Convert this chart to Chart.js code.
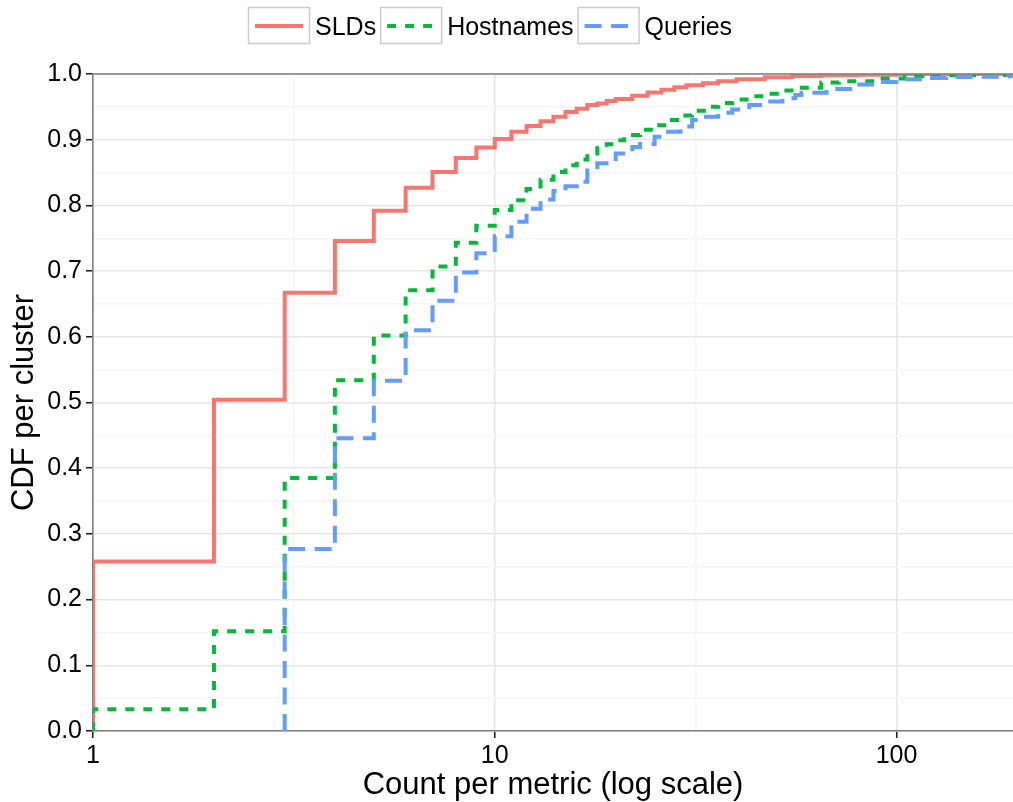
<!DOCTYPE html>
<html>
<head>
<meta charset="utf-8">
<script src="https://cdn.jsdelivr.net/npm/chart.js@4/dist/chart.umd.min.js"></script>
<style>
  html, body { margin: 0; padding: 0; background: #fff; }
  #wrap { width: 1013px; height: 802px; }
</style>
</head>
<body>
<div id="wrap"><canvas id="cdfChart" width="1013" height="802"></canvas></div>
<script>
// ECDF steps: count per metric -> share of clusters
const sldCounts = [1, 1, 2, 3, 4, 5, 6, 7, 8, 9, 10, 11, 12, 13, 14, 15, 16, 17, 18, 19, 20, 22, 24, 26, 28, 30, 33, 36, 40, 47, 55, 65, 80, 100]
const sldCdf = [0, 0.258, 0.504, 0.667, 0.746, 0.792, 0.827, 0.851, 0.872, 0.888, 0.901, 0.912, 0.921, 0.928, 0.935, 0.942, 0.947, 0.953, 0.955, 0.959, 0.962, 0.967, 0.972, 0.976, 0.980, 0.983, 0.986, 0.989, 0.992, 0.995, 0.997, 0.998, 0.999, 1.0]

const hostCounts = [1, 1, 2, 3, 4, 5, 6, 7, 8, 9, 10, 11, 12, 13, 14, 15, 16, 17, 18, 19, 20, 21, 23, 25, 27, 29, 31, 34, 36, 39, 43, 47, 52, 56, 65, 72, 87, 105, 116, 140]
const hostCdf = [0, 0.033, 0.152, 0.385, 0.534, 0.602, 0.671, 0.707, 0.743, 0.769, 0.793, 0.808, 0.825, 0.839, 0.851, 0.861, 0.870, 0.879, 0.887, 0.893, 0.899, 0.907, 0.915, 0.922, 0.930, 0.937, 0.944, 0.950, 0.956, 0.961, 0.966, 0.970, 0.975, 0.979, 0.987, 0.989, 0.993, 0.9965, 0.998, 0.9985]

const queryCounts = [3, 3, 4, 5, 6, 7, 8, 9, 10, 11, 12, 13, 14, 15, 16, 17, 18, 20, 22, 23, 25, 27, 29, 31, 33, 36, 39, 43, 47, 52, 56, 58, 67, 78, 87, 100, 116, 133, 160, 190]
const queryCdf = [0, 0.277, 0.4455, 0.533, 0.610, 0.655, 0.698, 0.727, 0.753, 0.775, 0.795, 0.809, 0.822, 0.829, 0.836, 0.853, 0.864, 0.879, 0.889, 0.8935, 0.9046, 0.912, 0.920, 0.930, 0.935, 0.941, 0.946, 0.953, 0.958, 0.963, 0.968, 0.9715, 0.977, 0.984, 0.988, 0.992, 0.994, 0.9955, 0.996, 0.997]

const seriesLabels = ['SLDs', 'Hostnames', 'Queries']

const xTickValues = [1, 3.1623, 10, 31.623, 100]
const xTickLabels = ['1', '', '10', '', '100']
const X_MIN = 1
const X_MAX = 195

const FONT = "'Liberation Sans', Arial, Helvetica, sans-serif"
const MAJOR_GRID = '#E6E6E6'
const MINOR_GRID = '#F6F6F6'
const BORDER_GREY = '#7F7F7F'

// ecdf runs on to the right edge of the panel
const toSteps = (xs, ys) => {
  let pts = xs.map((x, i) => ({ x: x, y: ys[i] }))
  pts.push({ x: X_MAX, y: ys[ys.length - 1] })
  return pts
}

const lineStyle = (label, pts, color, dash, order) => ({
  label: label,
  data: pts,
  borderColor: color,
  backgroundColor: color,
  borderWidth: 4,
  borderDash: dash,
  borderCapStyle: 'butt',
  borderJoinStyle: 'miter',
  stepped: 'before',
  pointRadius: 0,
  fill: false,
  clip: 0,
  order: order,
})

const isMinorY = v => Math.round(v * 100) % 10 !== 0
const isMinorX = v => xTickLabels[xTickValues.indexOf(v)] === ''

const panelTop = {
  id: 'panelTop',
  afterDatasetsDraw(chart) {
    const { ctx, chartArea } = chart
    ctx.save()
    ctx.strokeStyle = BORDER_GREY
    ctx.lineWidth = 1.6
    ctx.beginPath()
    ctx.moveTo(chartArea.left, chartArea.top)
    ctx.lineTo(chartArea.right, chartArea.top)
    ctx.stroke()
    ctx.restore()
  }
}

// ggplot-like legend keys: grey box with a line sample, then the label
const keyLegend = {
  id: 'keyLegend',
  afterDraw(chart) {
    const { ctx } = chart
    const keyW = 61, keyH = 36, top = 7
    let x = 248
    ctx.save()
    ctx.font = '25px ' + FONT
    ctx.textBaseline = 'middle'
    chart.data.datasets.forEach(ds => {
      ctx.setLineDash([])
      ctx.strokeStyle = '#CCCCCC'
      ctx.lineWidth = 1.5
      ctx.strokeRect(x + 0.5, top + 0.5, keyW, keyH)
      ctx.strokeStyle = ds.borderColor
      ctx.lineWidth = ds.borderWidth
      ctx.lineCap = 'butt'
      ctx.setLineDash(ds.borderDash)
      ctx.beginPath()
      ctx.moveTo(x + 7, top + keyH / 2 + 1)
      ctx.lineTo(x + keyW - 6, top + keyH / 2 + 1)
      ctx.stroke()
      ctx.setLineDash([])
      ctx.fillStyle = '#000'
      ctx.fillText(ds.label, x + keyW + 6, top + keyH / 2 + 3)
      x += keyW + 6 + ctx.measureText(ds.label).width + 4
    })
    ctx.restore()
  }
}

const ctxCdf = document.getElementById('cdfChart').getContext('2d')
const chartCdf = new Chart(ctxCdf, {
  type: 'line',
  data: {
    datasets: [
      lineStyle(seriesLabels[0], toSteps(sldCounts, sldCdf), '#F8766D', [], 3),
      lineStyle(seriesLabels[1], toSteps(hostCounts, hostCdf), '#00BA38', [9, 9], 2),
      lineStyle(seriesLabels[2], toSteps(queryCounts, queryCdf), '#619CFF', [17, 9.5], 1),
    ]
  },
  options: {
    responsive: false,
    animation: false,
    devicePixelRatio: 1,
    layout: { padding: { top: 74, left: 0, right: 0, bottom: 0 } },
    plugins: {
      legend: { display: false },
      tooltip: { enabled: false },
    },
    scales: {
      x: {
        type: 'logarithmic',
        min: X_MIN,
        max: X_MAX,
        afterBuildTicks: scale => {
          scale.ticks = xTickValues.map(v => ({ value: v }))
        },
        afterFit: scale => { scale.height = 71 },
        grid: {
          color: c => (c.tick && isMinorX(c.tick.value)) ? MINOR_GRID : MAJOR_GRID,
          lineWidth: 1.5,
          tickColor: c => (c.tick && isMinorX(c.tick.value)) ? 'rgba(0,0,0,0)' : '#222',
          tickLength: 7,
          tickWidth: 1.6,
        },
        border: { display: true, color: BORDER_GREY, width: 1.6 },
        ticks: {
          autoSkip: false,
          maxRotation: 0,
          padding: 3,
          color: '#000',
          font: { family: FONT, size: 25 },
          callback: (v) => {
            const i = xTickValues.indexOf(v)
            return i >= 0 ? xTickLabels[i] : ''
          },
        },
        title: {
          display: true,
          text: 'Count per metric (log scale)',
          color: '#000',
          font: { family: FONT, size: 31 },
          padding: { top: 0, bottom: -2 },
        },
      },
      y: {
        type: 'linear',
        min: 0,
        max: 1,
        afterFit: scale => { scale.width = 93 },
        grid: {
          color: c => (c.tick && isMinorY(c.tick.value)) ? MINOR_GRID : MAJOR_GRID,
          lineWidth: 1.5,
          tickColor: c => (c.tick && isMinorY(c.tick.value)) ? 'rgba(0,0,0,0)' : '#222',
          tickLength: 7,
          tickWidth: 1.6,
        },
        border: { display: true, color: BORDER_GREY, width: 1.6 },
        ticks: {
          stepSize: 0.05,
          autoSkip: false,
          padding: 4,
          color: '#000',
          font: { family: FONT, size: 25 },
          callback: v => isMinorY(v) ? '' : v.toFixed(1),
        },
        title: {
          display: true,
          text: 'CDF per cluster',
          color: '#000',
          font: { family: FONT, size: 31 },
          padding: { top: 6, bottom: 0 },
        },
      },
    },
  },
  plugins: [panelTop, keyLegend],
})
</script>
</body>
</html>
